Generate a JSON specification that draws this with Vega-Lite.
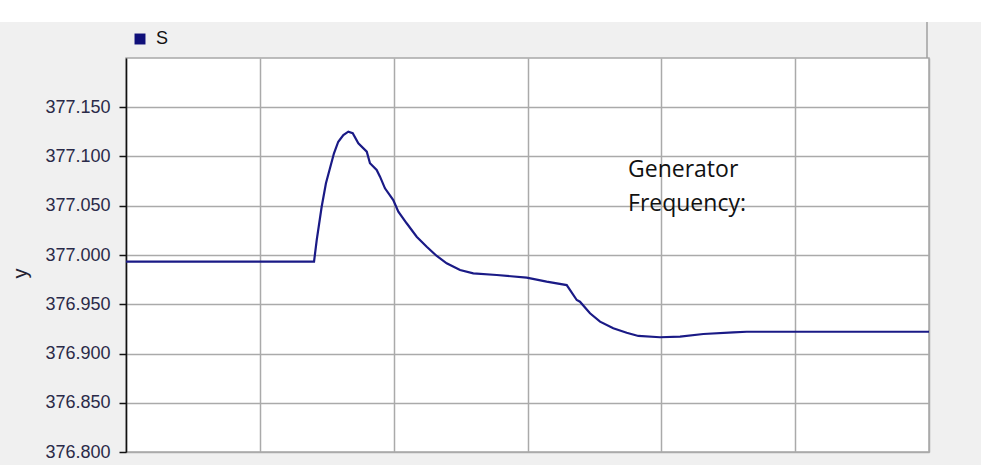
{
  "$schema": "https://vega.github.io/schema/vega-lite/v6.json",
  "width": 803,
  "height": 394,
  "autosize": "none",
  "padding": {"left": 126, "top": 58, "right": 52, "bottom": 13},
  "background": "#f0f0f0",
  "config": {
    "view": {"stroke": "#a8a8a8", "strokeWidth": 1.5, "fill": "white"},
    "font": "Liberation Sans"
  },
  "datasets": {
    "freq": [
      {"t": 0.0, "v": 376.9932, "series": "S"},
      {"t": 1.405, "v": 376.9932, "series": "S"},
      {"t": 1.425, "v": 377.0152, "series": "S"},
      {"t": 1.462, "v": 377.049, "series": "S"},
      {"t": 1.494, "v": 377.0728, "series": "S"},
      {"t": 1.524, "v": 377.088, "series": "S"},
      {"t": 1.554, "v": 377.1033, "series": "S"},
      {"t": 1.586, "v": 377.115, "series": "S"},
      {"t": 1.624, "v": 377.1218, "series": "S"},
      {"t": 1.661, "v": 377.1252, "series": "S"},
      {"t": 1.694, "v": 377.1236, "series": "S"},
      {"t": 1.736, "v": 377.1134, "series": "S"},
      {"t": 1.799, "v": 377.1049, "series": "S"},
      {"t": 1.823, "v": 377.0931, "series": "S"},
      {"t": 1.873, "v": 377.0863, "series": "S"},
      {"t": 1.898, "v": 377.0795, "series": "S"},
      {"t": 1.935, "v": 377.0677, "series": "S"},
      {"t": 1.997, "v": 377.0558, "series": "S"},
      {"t": 2.035, "v": 377.044, "series": "S"},
      {"t": 2.097, "v": 377.0322, "series": "S"},
      {"t": 2.172, "v": 377.0186, "series": "S"},
      {"t": 2.247, "v": 377.0084, "series": "S"},
      {"t": 2.322, "v": 376.999, "series": "S"},
      {"t": 2.396, "v": 376.9916, "series": "S"},
      {"t": 2.496, "v": 376.9848, "series": "S"},
      {"t": 2.595, "v": 376.9814, "series": "S"},
      {"t": 2.77, "v": 376.9797, "series": "S"},
      {"t": 2.994, "v": 376.977, "series": "S"},
      {"t": 3.143, "v": 376.9729, "series": "S"},
      {"t": 3.293, "v": 376.9695, "series": "S"},
      {"t": 3.368, "v": 376.9543, "series": "S"},
      {"t": 3.392, "v": 376.9526, "series": "S"},
      {"t": 3.467, "v": 376.9408, "series": "S"},
      {"t": 3.542, "v": 376.9323, "series": "S"},
      {"t": 3.641, "v": 376.9256, "series": "S"},
      {"t": 3.741, "v": 376.9211, "series": "S"},
      {"t": 3.828, "v": 376.9178, "series": "S"},
      {"t": 3.99, "v": 376.9165, "series": "S"},
      {"t": 4.14, "v": 376.9171, "series": "S"},
      {"t": 4.314, "v": 376.9198, "series": "S"},
      {"t": 4.538, "v": 376.9215, "series": "S"},
      {"t": 4.638, "v": 376.9221, "series": "S"},
      {"t": 6.0, "v": 376.9221, "series": "S"}
    ]
  },
  "layer": [
    {
      "data": {"values": [{}]},
      "mark": {"type": "rect", "color": "white"},
      "encoding": {
        "x": {"datum": -1.2, "type": "quantitative", "scale": {"domain": [0, 6], "nice": false, "zero": false}},
        "x2": {"datum": 6.6},
        "y": {"datum": 377.2365, "type": "quantitative", "scale": {"domain": [376.8, 377.2], "nice": false, "zero": false}},
        "y2": {"datum": 377.28}
      }
    },
    {
      "data": {"values": [{}]},
      "mark": {"type": "rule", "color": "#a0a0a0", "strokeWidth": 1.5},
      "encoding": {
        "x": {"datum": 5.985, "type": "quantitative"},
        "y": {"datum": 377.2, "type": "quantitative"},
        "y2": {"datum": 377.2365}
      }
    },
    {
      "data": {"name": "freq"},
      "mark": {"type": "line", "strokeWidth": 2.2},
      "encoding": {
        "x": {
          "field": "t", "type": "quantitative",
          "scale": {"domain": [0, 6], "nice": false, "zero": false},
          "axis": {"values": [0, 1, 2, 3, 4, 5, 6], "labels": false, "ticks": false, "domain": false, "title": null, "grid": true, "gridColor": "#aaaaaa", "gridWidth": 1.5}
        },
        "y": {
          "field": "v", "type": "quantitative",
          "scale": {"domain": [376.8, 377.2], "nice": false, "zero": false},
          "axis": {
            "title": "y", "titleFont": "Liberation Sans", "titleFontSize": 20, "titleFontWeight": "normal", "titleColor": "#222233",
            "titleX": -106, "titleY": 215, "titleAlign": "center", "titleBaseline": "middle", "titleAngle": -90,
            "values": [376.8, 376.85, 376.9, 376.95, 377.0, 377.05, 377.1, 377.15],
            "format": ".3f",
            "labelFont": "Liberation Sans", "labelFontSize": 18, "labelColor": "#2a2a48", "labelPadding": 9,
            "tickSize": 7, "tickColor": "#111111", "tickWidth": 1.5,
            "domainColor": "#111111", "domainWidth": 1.5,
            "grid": true, "gridColor": "#aaaaaa", "gridWidth": 1.5
          }
        },
        "color": {
          "field": "series", "type": "nominal",
          "scale": {"range": ["#1a1a86"]},
          "legend": {
            "orient": "none", "legendX": 5, "legendY": -28, "title": null, "padding": 0,
            "symbolType": "square", "symbolSize": 120, "symbolFillColor": "#10107a", "symbolStrokeWidth": 0,
            "labelFont": "Liberation Sans", "labelFontSize": 18, "labelColor": "#111111", "labelOffset": 7
          }
        }
      }
    },
    {
      "data": {"values": [{"label": ["Generator", "Frequency:"]}]},
      "mark": {"type": "text", "align": "left", "baseline": "alphabetic", "font": "Open Sans", "fontSize": 23, "lineHeight": 34, "color": "#111111"},
      "encoding": {
        "x": {"datum": 3.751, "type": "quantitative"},
        "y": {"datum": 377.0795, "type": "quantitative"},
        "text": {"field": "label"}
      }
    }
  ]
}
